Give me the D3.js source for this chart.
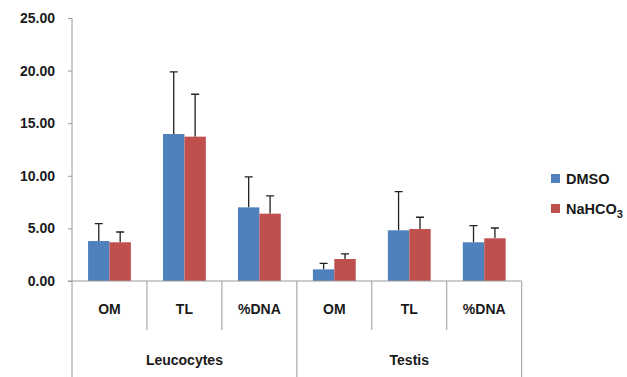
<!DOCTYPE html>
<html>
<head>
<meta charset="utf-8">
<script src="https://cdn.jsdelivr.net/npm/d3@7"></script>
<style>
body { margin: 0; background: #fff; }
text { font-family: "Liberation Sans", Arial, sans-serif; font-weight: bold; fill: #1a1a1a; }
</style>
</head>
<body>
<svg width="627" height="377"></svg>
<script>
var groups = ["Leucocytes", "Testis"];
var measures = ["OM", "TL", "%DNA"];
var seriesNames = ["DMSO", "NaHCO3"];
var colors = ["#4f81bd", "#c0504d"];

// values per category (Leucocytes OM, TL, %DNA, Testis OM, TL, %DNA)
var dmso = [3.8, 13.97, 7.0, 1.11, 4.82, 3.68];
var dmsoErr = [1.65, 5.9, 2.9, 0.57, 3.67, 1.58];
var nahco3 = [3.68, 13.72, 6.4, 2.09, 4.94, 4.06];
var nahco3Err = [0.98, 4.03, 1.7, 0.48, 1.12, 0.98];

var yTicks = [0, 5, 10, 15, 20, 25];

var svg = d3.select("svg");
var plotLeft = 72, plotRight = 521.7, plotTop = 18, plotBottom = 281;

var cats = [];
groups.forEach(function(g) {
	measures.forEach(function(m) { cats.push(g + "|" + m); });
});

var x = d3.scaleBand().domain(cats).range([plotLeft, plotRight]).paddingInner(0).paddingOuter(0);
var xInner = d3.scaleBand().domain(seriesNames).range([0, x.bandwidth()]).paddingInner(0).paddingOuter(0.75);
var y = d3.scaleLinear().domain([0, 25]).range([plotBottom, plotTop]);

var grey = "#9a9a9a";

// y axis
var yAxis = svg.append("g")
	.attr("transform", "translate(" + plotLeft + ",0)")
	.call(d3.axisLeft(y).tickValues(yTicks).tickSize(4).tickPadding(13).tickFormat(d3.format(".2f")));
yAxis.select(".domain").attr("stroke", grey).attr("d", "M0," + plotTop + "V" + 377);
yAxis.selectAll(".tick line").attr("stroke", grey);
yAxis.selectAll(".tick text").style("font-size", "14px").attr("fill", "#1a1a1a");

// bars
var data = cats.map(function(c, i) {
	return [
		{ cat: c, s: seriesNames[0], v: dmso[i], e: dmsoErr[i], col: colors[0] },
		{ cat: c, s: seriesNames[1], v: nahco3[i], e: nahco3Err[i], col: colors[1] }
	];
});

var catG = svg.selectAll(".cat")
	.data(data)
	.enter()
	.append("g")
	.attr("class", "cat")
	.attr("transform", function(d, i) { return "translate(" + x(cats[i]) + ",0)"; });

// error bars (upward only)
catG.selectAll(".err")
	.data(function(d) { return d; })
	.enter()
	.append("path")
	.attr("class", "err")
	.attr("fill", "none")
	.attr("stroke", "#222")
	.attr("stroke-width", 1.3)
	.attr("d", function(d) {
		var cx = xInner(d.s) + xInner.bandwidth() / 2;
		var yt = y(d.v + d.e);
		return "M" + cx + "," + y(d.v) + "V" + yt + "M" + (cx - 4) + "," + yt + "H" + (cx + 4);
	});

catG.selectAll("rect")
	.data(function(d) { return d; })
	.enter()
	.append("rect")
	.attr("x", function(d) { return xInner(d.s); })
	.attr("width", xInner.bandwidth())
	.attr("y", function(d) { return y(d.v); })
	.attr("height", function(d) { return y(0) - y(d.v); })
	.attr("fill", function(d) { return d.col; });

// x axis line
svg.append("line")
	.attr("x1", plotLeft - 4).attr("x2", plotRight)
	.attr("y1", plotBottom).attr("y2", plotBottom)
	.attr("stroke", grey);

// category dividers
cats.forEach(function(c, i) {
	if (i === 0) return;
	var xx = x(c);
	var long = (i % measures.length === 0);
	svg.append("line")
		.attr("x1", xx).attr("x2", xx)
		.attr("y1", plotBottom).attr("y2", long ? 377 : 330)
		.attr("stroke", grey);
});
svg.append("line")
	.attr("x1", plotRight).attr("x2", plotRight)
	.attr("y1", plotBottom).attr("y2", 377)
	.attr("stroke", grey);

// subcategory labels
svg.selectAll(".sublabel")
	.data(cats)
	.enter()
	.append("text")
	.attr("class", "sublabel")
	.attr("x", function(d) { return x(d) + x.bandwidth() / 2; })
	.attr("y", 314)
	.attr("text-anchor", "middle")
	.style("font-size", "14px")
	.text(function(d) { return d.split("|")[1]; });

// group labels
svg.selectAll(".glabel")
	.data(groups)
	.enter()
	.append("text")
	.attr("class", "glabel")
	.attr("x", function(g, i) { return plotLeft + (plotRight - plotLeft) / groups.length * (i + 0.5); })
	.attr("y", 365)
	.attr("text-anchor", "middle")
	.style("font-size", "14px")
	.text(function(d) { return d; });

// legend
var legend = svg.append("g").attr("transform", "translate(551,174)");
seriesNames.forEach(function(s, i) {
	var row = legend.append("g").attr("transform", "translate(0," + i * 30 + ")");
	row.append("rect").attr("width", 9).attr("height", 9).attr("fill", colors[i]);
	var t = row.append("text").attr("x", 15).attr("y", 10).style("font-size", "14.5px");
	if (s === "NaHCO3") {
		t.text("NaHCO");
		t.append("tspan").attr("dy", 4).style("font-size", "11px").text("3");
	} else {
		t.text(s);
	}
});
</script>
</body>
</html>
